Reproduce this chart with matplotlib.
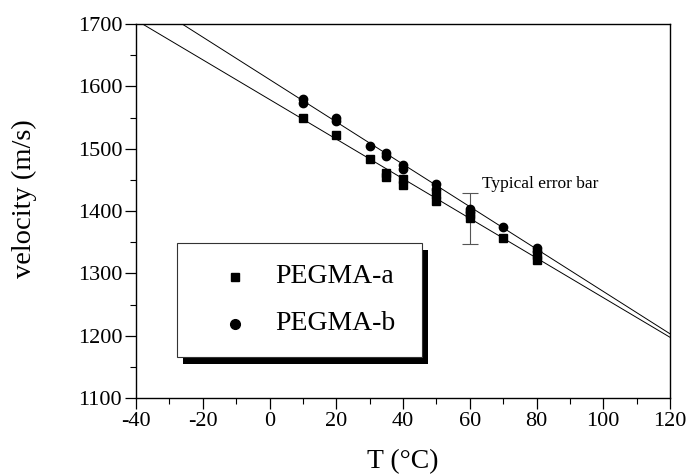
import matplotlib
matplotlib.use("Agg")
import matplotlib.pyplot as plt
import numpy as np
from matplotlib.patches import Rectangle

plt.rcParams['font.family'] = ['Liberation Serif', 'DejaVu Serif']
plt.rcParams['axes.unicode_minus'] = False

# data
series_names = ["PEGMA-a", "PEGMA-b"]
T_a = [10, 20, 30, 35, 35, 40, 40, 50, 50, 60, 60, 70, 80, 80]
v_a = [1550, 1522, 1483, 1461, 1455, 1452, 1442, 1428, 1416, 1395, 1388, 1357, 1329, 1322]
T_b = [10, 10, 20, 20, 30, 35, 35, 40, 40, 50, 50, 60, 60, 70, 80, 80]
v_b = [1580, 1573, 1550, 1544, 1505, 1493, 1488, 1473, 1467, 1443, 1435, 1404, 1398, 1375, 1340, 1336]
# linear fits (slope, intercept)
fit_a = (-3.18, 1579)
fit_b = (-3.40, 1611)
err_T = 60
err_v = 1388
err_size = 41
err_label = "Typical error bar"
xticks = [-40, -20, 0, 20, 40, 60, 80, 100, 120]
yticks = [1100, 1200, 1300, 1400, 1500, 1600, 1700]

fig = plt.figure(figsize=(6.88, 4.76), dpi=100)
ax = fig.add_axes([136/688, 1-398/476, (670-136)/688, (398-24)/476])

xs = np.array([-40, 120])
ax.plot(xs, fit_a[0]*xs + fit_a[1], color='black', lw=0.7, zorder=2)
ax.plot(xs, fit_b[0]*xs + fit_b[1], color='black', lw=0.7, zorder=2)

ax.plot(T_a, v_a, 's', color='black', ms=5.2, zorder=3)
ax.plot(T_b, v_b, 'o', color='black', ms=6, zorder=3)

ax.errorbar([err_T], [err_v], yerr=[err_size], fmt='none', ecolor='#555555',
            elinewidth=0.8, capsize=5.5, capthick=0.8, zorder=2)
ax.text(63.6, 1443, err_label, fontsize=12.5, va='center', ha='left')

ax.set_xlim(-40, 120)
ax.set_ylim(1100, 1700)
ax.set_xticks(xticks)
ax.set_yticks(yticks)
ax.set_xticks(np.arange(-30, 120, 20), minor=True)
ax.set_yticks(np.arange(1150, 1700, 100), minor=True)
ax.tick_params(which='major', direction='out', length=8, width=0.9, labelsize=16, pad=2,
               top=False, right=False)
ax.tick_params(which='minor', direction='out', length=4.5, width=0.8, top=False, right=False)
for s in ax.spines.values():
    s.set_linewidth(1.0)

ax.set_xlabel("T (°C)", fontsize=20, labelpad=13)
ax.set_ylabel("velocity (m/s)", fontsize=20.5)
ax.yaxis.set_label_coords(-0.185, 0.533)

# legend box with shadow
bx0, bx1 = (176.7-136)/534, (422-136)/534
by0, by1 = (398-356.7)/374, (398-242.7)/374
dx, dy = 6/534, 7/374
ax.add_patch(Rectangle((bx0+dx, by0-dy), bx1-bx0, by1-by0, transform=ax.transAxes,
                       facecolor='black', edgecolor='none', zorder=4))
ax.add_patch(Rectangle((bx0, by0), bx1-bx0, by1-by0, transform=ax.transAxes,
                       facecolor='white', edgecolor='#333333', lw=0.8, zorder=5))
mx = (235-136)/534
tx = (275-136)/534
rows = [(398-276.7)/374, (398-324)/374]
ax.plot([mx], [rows[0]], 's', color='black', ms=5.5, transform=ax.transAxes, zorder=6, clip_on=False)
ax.plot([mx], [rows[1]], 'o', color='black', ms=7, transform=ax.transAxes, zorder=6, clip_on=False)
for name, ry in zip(series_names, rows):
    ax.text(tx, ry, name, fontsize=20, va='center', ha='left', transform=ax.transAxes, zorder=6)

fig.savefig("out.png", dpi=100)
